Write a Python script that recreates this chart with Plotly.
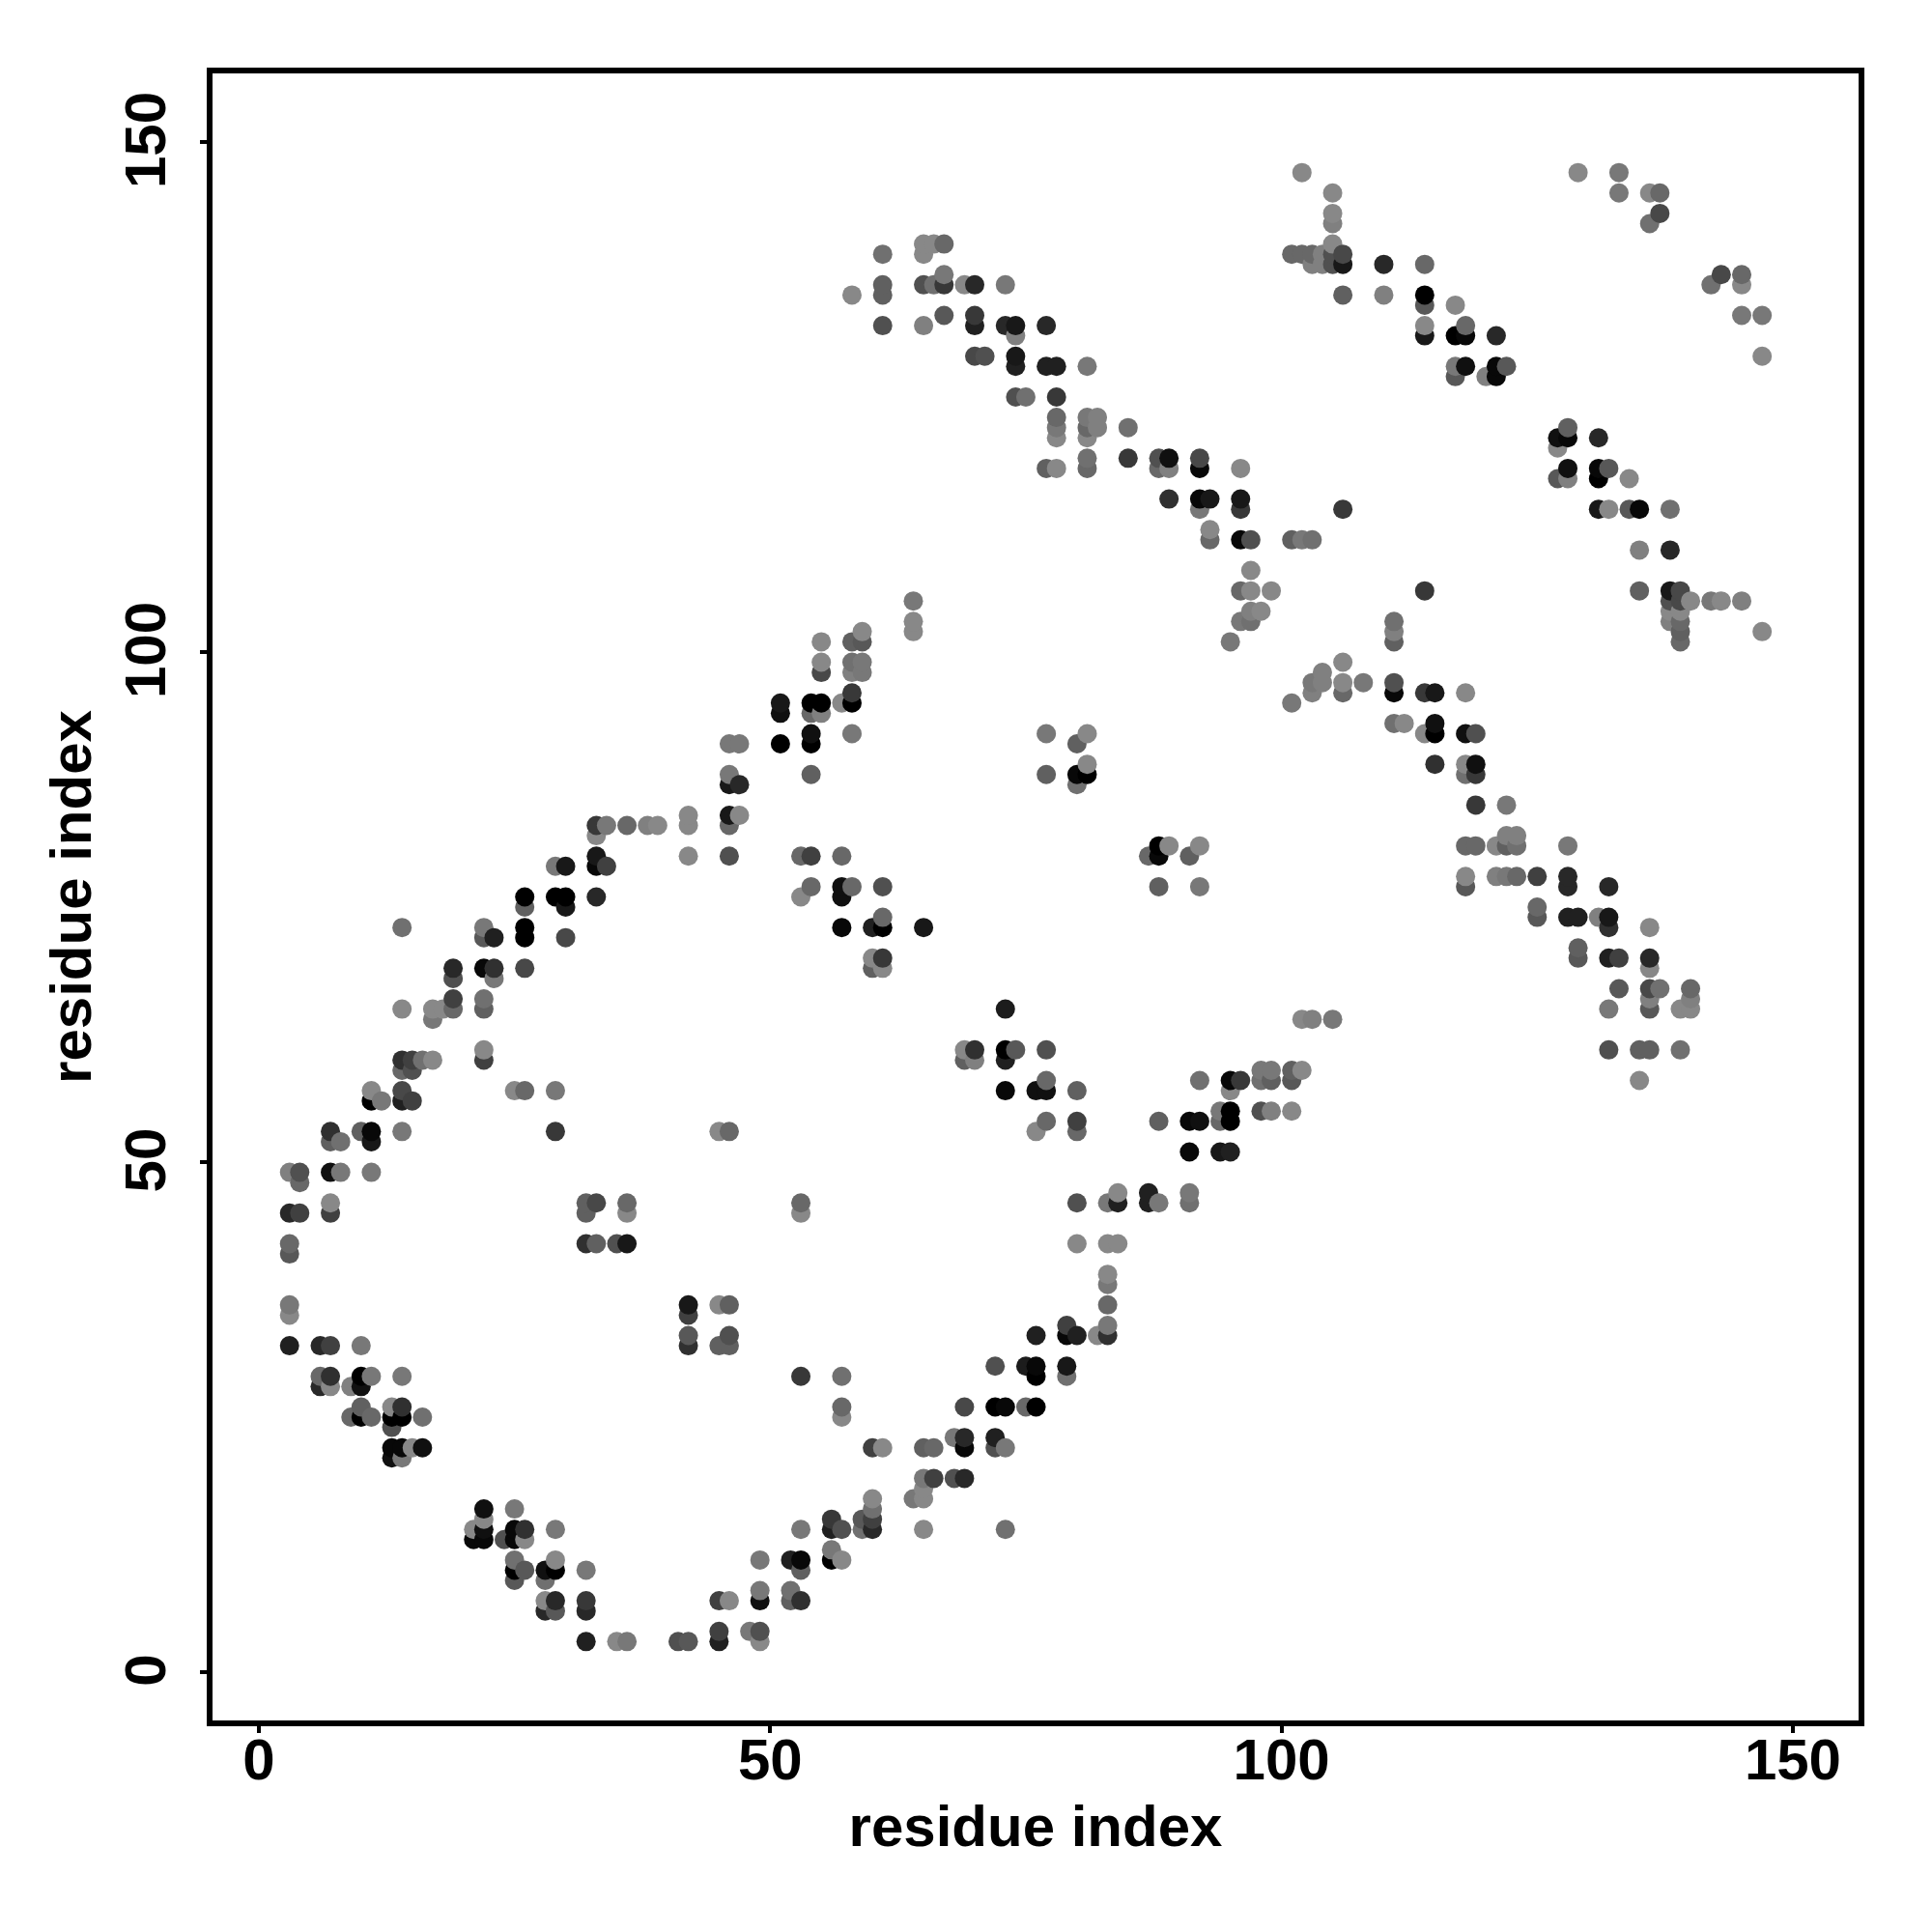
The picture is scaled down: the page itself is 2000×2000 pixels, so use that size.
import plotly.graph_objects as go

# One entry per residue index on the y axis; row_x / row_grey give the contacts on that row.
row_y = [3,4,6,7,8,9,10,11,12,13,14,15,16,17,18,19,21,22,23,24,25,26,28,29,30,32,33,34,35,36,38,39,41,42,45,46,47,48,49,
         51,52,53,54,55,56,57,58,59,60,61,64,65,66,67,68,69,70,71,72,73,74,75,76,77,78,79,80,81,82,83,84,85,87,88,89,91,
         92,93,94,95,96,97,98,99,101,102,103,104,105,106,108,110,111,112,114,115,117,118,119,120,121,122,123,125,127,128,
         129,131,132,133,134,135,136,137,138,139,140,142,143,145,147]
row_x = [
 [32,35,36,41,42,45,49],[45,48,49],[28,29,32],[28,29,32,45,46,49,52,53],[49,52],[25,28],[25,26,28,29,32,53],
 [25,29,49,52,53,56,57],[56],[21,22,24,25,26],[21,22,25,26,29,53,56,57,59,60,65,73],[22,56,59,60],[22,25,60],
 [60,64,65],[65],[65,66,68,69],[13,14],[13,14,15,16,60,61,65,66,69,72,73],[68,69,72],[13],[9,10,11,13,14,16,57],
 [10,13,14,57,69,72,73,75,76],[6,7,9,10],[6,7,10,11,14,53,57,76,79],[72,75,76,79],[3,6,7,10,42,45,46],
 [42,46,76,79,80,82,83],[79,83],[3,42],[3,42,45,46,83],[83],[83],[3],[3,32,33,35,36,80,83,84],[3,4,7,32,36,53],
 [7,32,33,36,53,80,83,84,87,88,91],[84,87,91],[4],[3,4,7,8,11],
 [91,94,95],[7,8,11],[7,10,11,14,29,45,46,76,80],[77,80,88,91,92,94,95],[94,95,98,99,101],[11,12,14,15],
 [11,14,25,26,29,73,76,77,80,95],[77,92,95,96,98,99,101,135],[14,15,98,99,101,102],[14,15,16,17,22,69,70,73],
 [22,69,70,73,74,77,132,135,136,139],[17,102,103,105],[14,17,18,19,22,73,132,136,139,140],[19,22,136,140],
 [133,136,137,140],[19,23],[19,22,23,26,60,61,136],[60,61,129,132,133,136],[129],[22,23,26,30],
 [14,22,26,57,60,61,65,132,136],[61,125,128,129,131,132],[26,30,125],[26,29,30,33,53,57],
 [54,57,58,61,88,92,118,128,132],[118,121,122,123,125,128],[29,30,33,34],[33,42,46,53,54,57,87,88,91],
 [88,89,92,118,119,121,122,123,128],[33,122,123],[33,34,36,38,39,42,46],[42,46,47],[119,122],[46,47,80],
 [46,54,77,80,81,118,119],[81,115,118,119],[46,47,51,54,80],
 [54,58,77,81,114,115,118,119],[111,112,115],[51,54,55],[51,54,55,57,58,101],[58,103,106,111,114,115,118],
 [103,104,106,108,111],[55,58,59,104],[55,58,59,106],[55,58,59,95,111,139],[59,64,111,139,147],
 [64,96,97,111,138,139],[97,98,138,139],[64,138,139,140,142,143,145],[96,97,99,114,135,138,139],[97],[135,138],
 [93,96,97,101,102,103],[93],[92,96,106,131,132,134,135,138],[89,92,93,96],[127,128,131,134],
 [77,78,81,88,89,92,96,128,131,132],[81,85,88,89,92],[127],[78,81,127,128,131],[78,81,82,85,128],[78,81,82],
 [74,75,78],[117,120,121],[74,77,78,81,117,118,121,122],
 [70,71,74,147],[74,114,117,118,121],[61,65,70,73,74,77,114,118],[67,70,145,147],[114,117],[58,61,106,110,114],
 [61,65,66,67,69,70,73,142,145],[67,143,145],[103,104,105,106,110,114],[61,65,101,102,103,104,105,106],
 [65,66,67,105],[105,136],[105,137],[105,133,136,137],[102,129,133],
]
row_grey = [
 [0x20,0x88,0x78,0x50,0x58,0x20,0x88],[0x40,0x78,0x50],[0x28,0x58,0x28],[0x88,0x28,0x38,0x40,0x88,0x10,0x60,0x30],
 [0x78,0x70],[0x58,0x70],[0x00,0x58,0x10,0x00,0x78,0x60],[0x70,0x88,0x78,0x20,0x08,0x00,0x88],[0x78],
 [0x08,0x08,0x50,0x08,0x88],[0x88,0x10,0x08,0x30,0x78,0x78,0x20,0x50,0x70,0x28,0x88,0x70],[0x88,0x38,0x58,0x40],
 [0x10,0x78,0x70],[0x88,0x78,0x88],[0x88],[0x78,0x40,0x50,0x28],[0x10,0x78],
 [0x08,0x08,0x88,0x10,0x40,0x88,0x60,0x68,0x08,0x50,0x78],[0x78,0x28,0x20],[0x50],
 [0x68,0x00,0x68,0x00,0x00,0x70,0x88],[0x60,0x88,0x30,0x68,0x48,0x00,0x08,0x68,0x00],[0x28,0x88,0x80,0x10],
 [0x68,0x30,0x00,0x78,0x78,0x38,0x70,0x00,0x70],[0x50,0x1c,0x08,0x18],[0x20,0x28,0x40,0x78,0x30,0x60,0x60],
 [0x58,0x50,0x20,0x08,0x20,0x88,0x30],[0x40,0x78],[0x88,0x40],[0x78,0x18,0x88,0x60,0x68],[0x78],[0x88],[0x58],
 [0x68,0x30,0x60,0x50,0x18,0x88,0x88,0x88],[0x28,0x40,0x40,0x60,0x88,0x88],
 [0x88,0x60,0x48,0x68,0x68,0x50,0x78,0x20,0x20,0x78,0x70],[0x88,0x20,0x78],[0x68],[0x80,0x50,0x10,0x78,0x78],
 [0x08,0x18,0x20],[0x60,0x70,0x18],[0x30,0x60,0x08,0x78,0x38,0x88,0x68,0x88,0x68],
 [0x68,0x40,0x60,0x08,0x10,0x68,0x00],[0x78,0x00,0x50,0x80,0x88],[0x00,0x78,0x20,0x40],
 [0x88,0x48,0x88,0x68,0x78,0x08,0x10,0x10,0x60,0x88],[0x68,0x70,0x08,0x38,0x70,0x60,0x58,0x88],
 [0x68,0x50,0x78,0x78,0x60,0x88],[0x30,0x40,0x70,0x88,0x40,0x60,0x80,0x20],
 [0x88,0x88,0x30,0x00,0x58,0x50,0x50,0x60,0x60,0x70],[0x78,0x88,0x80,0x78],
 [0x88,0x88,0x88,0x68,0x60,0x1c,0x78,0x58,0x88,0x88],[0x40,0x70,0x80,0x80],[0x58,0x48,0x70,0x68],[0x50,0x78],
 [0x28,0x08,0x30,0x48,0x60,0x88,0x88],[0x88,0x38,0x58,0x20,0x40,0x28],[0x60],[0x58,0x20,0x00,0x48],
 [0x70,0x78,0x00,0x08,0x20,0x00,0x18,0x30,0x88],[0x68,0x58,0x20,0x20,0x80,0x18],[0x60,0x18,0x68],
 [0x00,0x00,0x00,0x28,0x88,0x10],[0x68,0x10,0x68,0x50,0x60,0x78,0x58,0x28,0x28],
 [0x88,0x80,0x78,0x68,0x40,0x28],[0x78,0x18,0x08,0x40],[0x18,0x88,0x50,0x68,0x40,0x68,0x68,0x08,0x60],
 [0x00,0x88,0x88,0x68,0x68,0x88,0x60,0x70,0x78],[0x88,0x80,0x80],[0x38,0x78,0x68,0x80,0x88,0x88,0x68],
 [0x88,0x18,0x88],[0x38,0x78],[0x18,0x28,0x70],[0x78,0x60,0x60,0x08,0x00,0x70,0x38],[0x88,0x30,0x88,0x10],
 [0x78,0x78,0x00,0x00,0x60],
 [0x10,0x78,0x78,0x88,0x88,0x00,0x10,0x50],[0x70,0x88,0x10],[0x10,0x68,0x80],[0x18,0x00,0x00,0x88,0x00,0x78],
 [0x38,0x80,0x68,0x08,0x38,0x18,0x88],[0x78,0x80,0x88,0x78,0x50],[0x48,0x80,0x78,0x80],[0x88,0x70,0x78,0x88],
 [0x88,0x60,0x58,0x78,0x60,0x68],[0x88,0x88,0x80,0x60,0x88],[0x88,0x78,0x70,0x70,0x80,0x68],[0x80,0x88,0x88,0x88],
 [0x78,0x50,0x48,0x88,0x78,0x88,0x80],[0x68,0x88,0x88,0x38,0x60,0x18,0x48],[0x88],[0x80,0x28],
 [0x68,0x08,0x50,0x60,0x78,0x70],[0x88],[0x78,0x38,0x38,0x18,0x88,0x58,0x08,0x70],[0x30,0x08,0x18,0x18],
 [0x58,0x80,0x00,0x88],[0x60,0x88,0x68,0x68,0x80,0x08,0x88,0x10,0x08,0x58],[0x70,0x38,0x50,0x10,0x48],[0x88],
 [0x88,0x88,0x10,0x08,0x28],[0x78,0x68,0x80,0x70,0x60],[0x68,0x78,0x80],[0x50,0x70,0x38],[0x58,0x80,0x08],
 [0x20,0x20,0x20,0x78,0x78,0x10,0x08,0x58],
 [0x48,0x50,0x18,0x88],[0x80,0x18,0x00,0x08,0x28],[0x50,0x80,0x20,0x28,0x18,0x28,0x88,0x68],[0x58,0x38,0x78,0x78],
 [0x58,0x88],[0x88,0x60,0x60,0x80,0x00],[0x60,0x50,0x70,0x38,0x88,0x28,0x78,0x70,0x88],[0x78,0x48,0x68],
 [0x80,0x80,0x50,0x18,0x28,0x68],[0x70,0x88,0x68,0x68,0x68,0x80,0x50,0x48],[0x88,0x88,0x68,0x88],[0x80,0x70],
 [0x88,0x48],[0x88,0x78,0x88,0x68],[0x88,0x88,0x78],
]
x_ticks = [0, 50, 100, 150]
y_ticks = [0, 50, 100, 150]
x_title = "residue index"
y_title = "residue index"

contacts = sorted(
    (x, y, g)
    for y, xs, gs in zip(row_y, row_x, row_grey)
    for x, g in zip(xs, gs)
)
xs = [c[0] for c in contacts]
ys = [c[1] for c in contacts]
colors = [f"rgb({c[2]},{c[2]},{c[2]})" for c in contacts]

fig = go.Figure(go.Scatter(
    x=xs, y=ys, mode="markers",
    marker=dict(size=20, color=colors, line=dict(width=0)),
    hoverinfo="skip",
))
FONT = "Liberation Sans"
axis = dict(
    showgrid=False, zeroline=False, showline=True, mirror=True,
    linecolor="black", linewidth=5.5, ticks="outside", ticklen=7, tickwidth=3.5, tickcolor="black",
    tickmode="array",
    tickfont=dict(family=FONT, size=60, color="black", weight="bold"),
)
fig.update_layout(
    width=2000, height=2000, autosize=False, showlegend=False,
    paper_bgcolor="white", plot_bgcolor="white",
    margin=dict(l=212, r=84, t=68, b=227, pad=0),
    xaxis=dict(axis, range=[-4.53, 156.43], tickvals=x_ticks, ticktext=[str(t) for t in x_ticks],
               ticklabelstandoff=-24,
               title=dict(text=x_title, font=dict(family=FONT, size=60, color="black", weight="bold"), standoff=17)),
    yaxis=dict(axis, range=[-4.73, 156.72], tickvals=y_ticks, ticktext=[str(t) for t in y_ticks], tickangle=-90,
               ticklabelstandoff=12, ticklabelshift=7,
               title=dict(text=y_title, font=dict(family=FONT, size=60, color="black", weight="bold"), standoff=5)),
)
fig.write_html("out.html")
